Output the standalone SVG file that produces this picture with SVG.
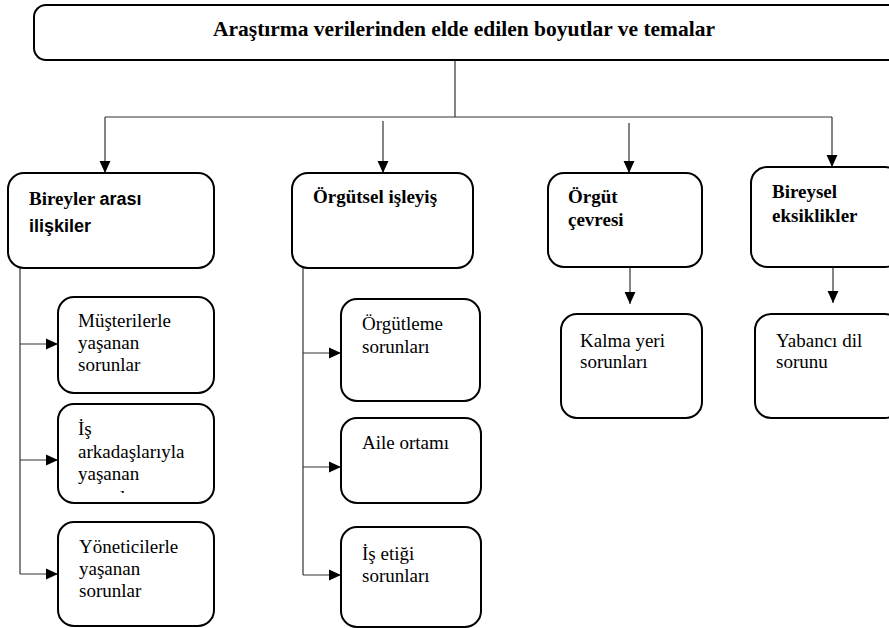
<svg xmlns="http://www.w3.org/2000/svg" width="889" height="628" viewBox="0 0 889 628">
<style>
.box{fill:#fff;stroke:#000;stroke-width:2}
.t{font-family:"Liberation Serif","Times New Roman",serif;font-size:19px;fill:#000}
.b{font-weight:bold}
.s{font-family:"Liberation Sans",Arial,sans-serif;font-weight:bold;font-size:18px}
.c{fill:none;stroke:#333;stroke-width:1.2}
</style>
<defs>
<marker id="ah" markerUnits="userSpaceOnUse" markerWidth="12" markerHeight="12" refX="11" refY="5" orient="auto" viewBox="0 0 11 10">
<path d="M0,0 L11,5 L0,10 z" fill="#000"/>
</marker>
<clipPath id="clip2"><rect x="58" y="404" width="156" height="89"/></clipPath>
</defs>
<rect width="889" height="628" fill="#fff"/>
<g id="connectors">
<path class="c" d="M455,60 V117 M105,117 H832"/>
<path class="c" d="M105,117 V173" marker-end="url(#ah)"/>
<path class="c" d="M383,121 V173" marker-end="url(#ah)"/>
<path class="c" d="M629,123 V173" marker-end="url(#ah)"/>
<path class="c" d="M832,117 V167" marker-end="url(#ah)"/>
<path class="c" d="M20,268 V574"/>
<path class="c" d="M20,344 H58" marker-end="url(#ah)"/>
<path class="c" d="M20,460 H58" marker-end="url(#ah)"/>
<path class="c" d="M20,574 H58" marker-end="url(#ah)"/>
<path class="c" d="M303,268 V575"/>
<path class="c" d="M303,353 H341" marker-end="url(#ah)"/>
<path class="c" d="M303,467 H341" marker-end="url(#ah)"/>
<path class="c" d="M303,575 H341" marker-end="url(#ah)"/>
<path class="c" d="M630,267 V304" marker-end="url(#ah)"/>
<path class="c" d="M833,267 V303" marker-end="url(#ah)"/>
</g>
<g id="root">
<rect class="box" x="34" y="5" width="870" height="55" rx="12"/>
<text class="t b" x="464" y="36" text-anchor="middle" style="font-size:21px" textLength="502" lengthAdjust="spacingAndGlyphs">Araştırma verilerinden elde edilen boyutlar ve temalar</text>
</g>
<g id="bireyler-arasi">
<rect class="box" x="8" y="173" width="206" height="95" rx="16"/>
<text class="t b" x="29" y="205">Bireyler <tspan class="s">arası</tspan></text>
<text class="t s" x="29" y="232">ilişkiler</text>
</g>
<g id="musteriler">
<rect class="box" x="58" y="297" width="156" height="96" rx="16"/>
<text class="t" x="78" y="327">Müşterilerle</text>
<text class="t" x="78" y="349">yaşanan</text>
<text class="t" x="78" y="371">sorunlar</text>
</g>
<g id="is-arkadaslari">
<rect class="box" x="58" y="404" width="156" height="99" rx="16"/>
<text class="t" x="78" y="435">İş</text>
<text class="t" x="78" y="458">arkadaşlarıyla</text>
<text class="t" x="78" y="480">yaşanan</text>
<text class="t" x="78" y="504" clip-path="url(#clip2)">sorunlar</text>
</g>
<g id="yoneticiler">
<rect class="box" x="58" y="522" width="156" height="104" rx="16"/>
<text class="t" x="79" y="553">Yöneticilerle</text>
<text class="t" x="79" y="575">yaşanan</text>
<text class="t" x="79" y="597">sorunlar</text>
</g>
<g id="orgutsel-isleyis">
<rect class="box" x="292" y="173" width="181" height="95" rx="16"/>
<text class="t b" x="313" y="203">Örgütsel işleyiş</text>
</g>
<g id="orgutleme">
<rect class="box" x="341" y="299" width="139" height="102" rx="16"/>
<text class="t" x="362" y="330">Örgütleme</text>
<text class="t" x="362" y="353">sorunları</text>
</g>
<g id="aile-ortami">
<rect class="box" x="341" y="418" width="140" height="85" rx="16"/>
<text class="t" x="362" y="449">Aile ortamı</text>
</g>
<g id="is-etigi">
<rect class="box" x="341" y="527" width="140" height="100" rx="16"/>
<text class="t" x="362" y="560">İş etiği</text>
<text class="t" x="362" y="582">sorunları</text>
</g>
<g id="orgut-cevresi">
<rect class="box" x="548" y="173" width="154" height="94" rx="16"/>
<text class="t b" x="568" y="203">Örgüt</text>
<text class="t b" x="568" y="226">çevresi</text>
</g>
<g id="kalma-yeri">
<rect class="box" x="561" y="314" width="141" height="104" rx="16"/>
<text class="t" x="580" y="347">Kalma yeri</text>
<text class="t" x="580" y="368">sorunları</text>
</g>
<g id="bireysel-eksiklikler">
<rect class="box" x="751" y="167" width="150" height="100" rx="16"/>
<text class="t b" x="772" y="198">Bireysel</text>
<text class="t b" x="772" y="222">eksiklikler</text>
</g>
<g id="yabanci-dil">
<rect class="box" x="755" y="314" width="146" height="104" rx="16"/>
<text class="t" x="776" y="347">Yabancı dil</text>
<text class="t" x="776" y="368">sorunu</text>
</g>
</svg>
